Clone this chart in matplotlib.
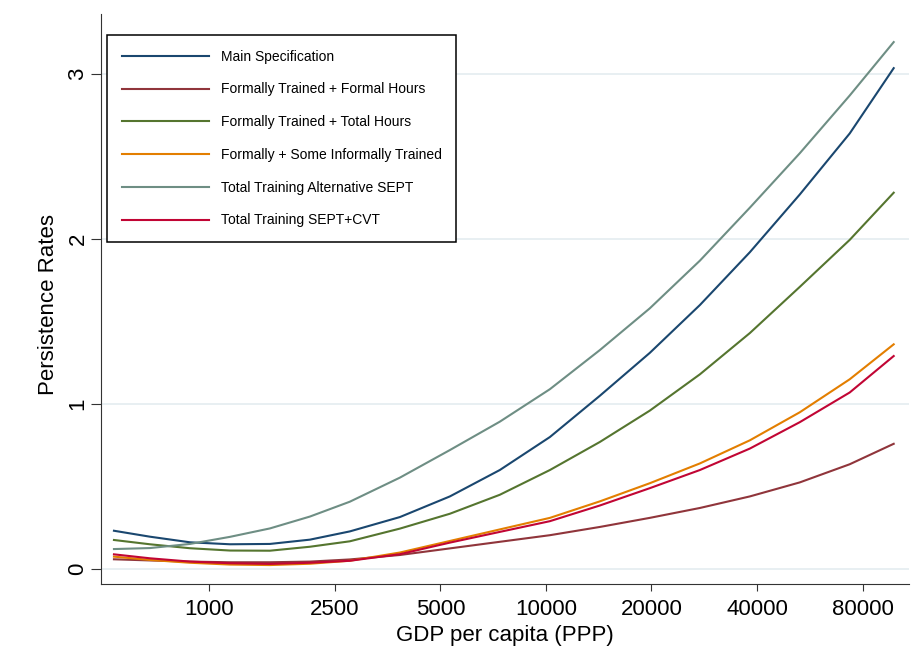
import matplotlib
matplotlib.use("Agg")
import matplotlib.pyplot as plt
import numpy as np

plt.rcParams['font.family'] = ['Liberation Sans', 'DejaVu Sans']

# log GDP per capita (PPP) at which the fitted rates were evaluated
ln_gdp = [6.373, 6.609, 6.872, 7.135, 7.397, 7.660, 7.922, 8.251, 8.579,
          8.907, 9.236, 9.564, 9.892, 10.221, 10.549, 10.877, 11.205, 11.494]

main_spec = [0.232, 0.196, 0.162, 0.150, 0.152, 0.178, 0.228, 0.315, 0.44,
             0.60, 0.80, 1.05, 1.31, 1.60, 1.92, 2.27, 2.64, 3.036]
formal_formal = [0.059, 0.052, 0.045, 0.041, 0.041, 0.045, 0.058, 0.085, 0.125,
                 0.165, 0.205, 0.255, 0.31, 0.37, 0.44, 0.525, 0.635, 0.759]
formal_total = [0.176, 0.150, 0.126, 0.112, 0.111, 0.135, 0.168, 0.245, 0.335,
                0.45, 0.60, 0.77, 0.96, 1.18, 1.43, 1.71, 1.995, 2.281]
some_informal = [0.075, 0.055, 0.038, 0.027, 0.024, 0.032, 0.05, 0.10, 0.17,
                 0.24, 0.31, 0.41, 0.52, 0.64, 0.78, 0.95, 1.15, 1.362]
alt_sept = [0.121, 0.127, 0.152, 0.195, 0.246, 0.318, 0.408, 0.554, 0.721,
            0.893, 1.09, 1.327, 1.58, 1.869, 2.19, 2.52, 2.87, 3.194]
sept_cvt = [0.089, 0.065, 0.045, 0.035, 0.031, 0.038, 0.05, 0.09, 0.16,
            0.225, 0.29, 0.385, 0.49, 0.60, 0.73, 0.89, 1.07, 1.291]

labels = ["Main Specification", "Formally Trained + Formal Hours",
          "Formally Trained + Total Hours", "Formally + Some Informally Trained",
          "Total Training Alternative SEPT", "Total Training SEPT+CVT"]
colors = ["#1a476f", "#90353b", "#55752f", "#e37e00", "#6e8e84", "#c10534"]

tick_pos = [7.0, 7.824, 8.517, 9.21, 9.903, 10.597, 11.29]
tick_labels = ["1000", "2500", "5000", "10000", "20000", "40000", "80000"]
y_ticks = [0, 1, 2, 3]


def main():
    fig = plt.figure(figsize=(9.2, 6.68), dpi=100)
    ax = fig.add_axes([0.1098, 0.1257, 0.878, 0.8533])

    series = [main_spec, formal_formal, formal_total, some_informal, alt_sept, sept_cvt]
    for ys, lab, col in zip(series, labels, colors):
        ax.plot(ln_gdp, ys, color=col, lw=1.5, label=lab)

    ax.set_xlim(6.288, 11.593)
    ax.set_ylim(-0.091, 3.364)

    ax.set_xticks(tick_pos)
    ax.set_xticklabels(tick_labels)
    ax.set_yticks(y_ticks)
    ax.tick_params(axis='x', length=5, width=0.8, pad=5.5, labelsize=16, color='#333333')
    ax.tick_params(axis='y', length=7.5, width=0.8, pad=1.5, labelsize=16,
                   labelrotation=90, color='#333333')
    for lab in ax.get_yticklabels():
        lab.set_va('center')

    ax.grid(axis='y', color='#e6eef1', lw=1.3)
    ax.set_axisbelow(True)
    for side in ['top', 'right']:
        ax.spines[side].set_visible(False)
    for side in ['left', 'bottom']:
        ax.spines[side].set_color('#333333')
        ax.spines[side].set_linewidth(0.8)

    ax.set_xlabel("GDP per capita (PPP)", fontsize=16)
    ax.set_ylabel("Persistence Rates", fontsize=16)
    ax.xaxis.set_label_coords(0.5, -0.071)
    ax.yaxis.set_label_coords(-0.052, 0.49)

    leg = ax.legend(loc='upper left', bbox_to_anchor=(0.0074, 0.963), borderaxespad=0,
                    fontsize=10, handlelength=6.26, handletextpad=0.9,
                    labelspacing=1.35, borderpad=1.05, fancybox=False, framealpha=1)
    leg.get_frame().set_edgecolor('black')
    leg.get_frame().set_linewidth(1.1)
    for line in leg.get_lines():
        line.set_linewidth(1.5)

    fig.savefig("out.png", dpi=100, facecolor='white')


if __name__ == '__main__':
    main()
